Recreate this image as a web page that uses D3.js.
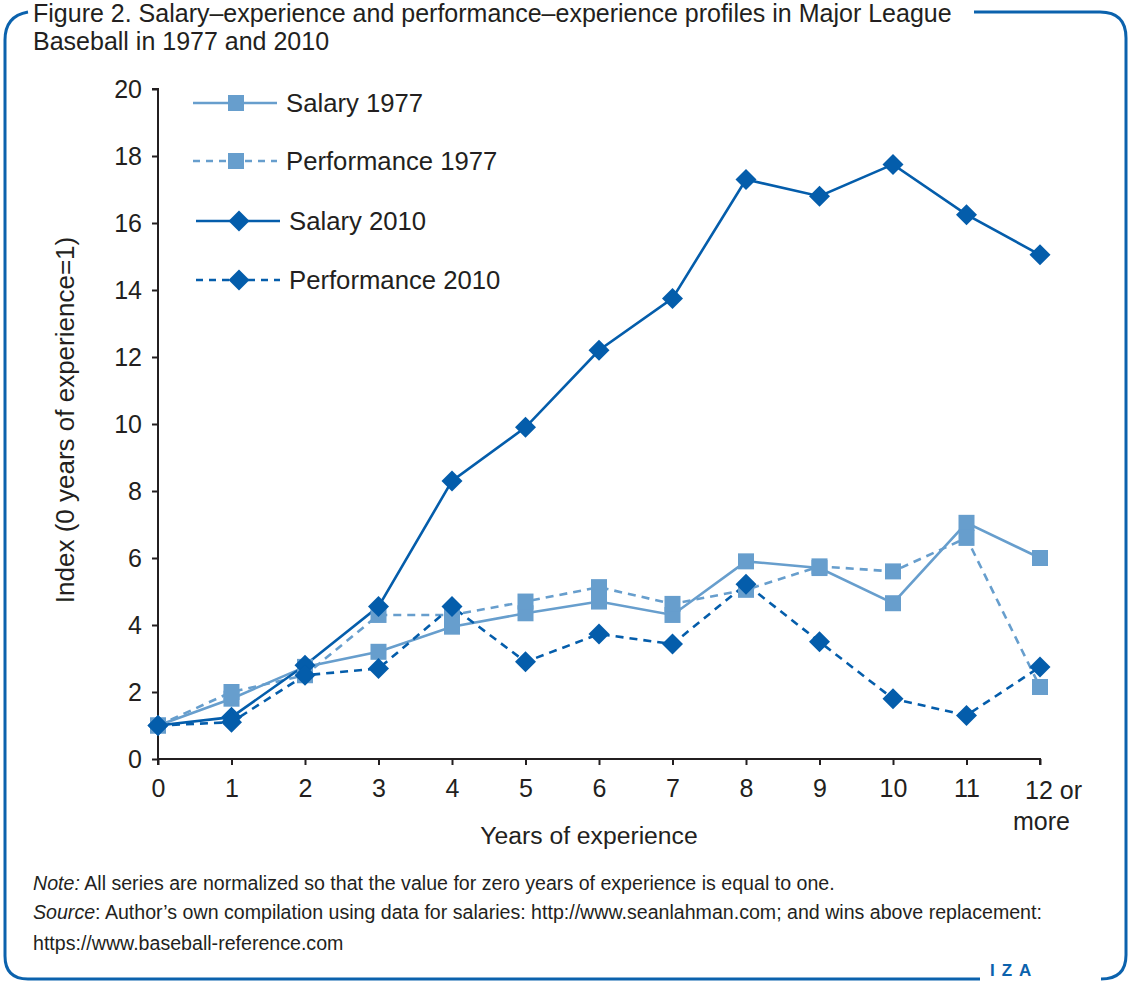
<!DOCTYPE html>
<html>
<head>
    <title>Salary and performance profiles</title>
    <script src="https://d3js.org/d3.v7.min.js"></script>
    <style>
        body { margin: 0; background: #fff; }
        text { fill: #231f20; font-family: "Liberation Sans", Arial, sans-serif; }
        .title { font-family: "Liberation Sans Narrow", "Liberation Sans", sans-serif; font-size: 25px; }
        .axis text { font-size: 25px; }
        .axis path, .axis line { stroke: #231f20; stroke-width: 2; }
    </style>
</head>
<body>
<div id="chart"></div>
<script>
    var years = [0, 1, 2, 3, 4, 5, 6, 7, 8, 9, 10, 11, 12];
    var salary1977 = [1, 1.8, 2.75, 3.2, 3.95, 4.35, 4.7, 4.3, 5.9, 5.7, 4.65, 7.05, 6.0];
    var performance1977 = [1, 2.0, 2.5, 4.3, 4.3, 4.7, 5.13, 4.63, 5.05, 5.75, 5.6, 6.6, 2.15];
    var salary2010 = [1, 1.25, 2.8, 4.55, 8.3, 9.9, 12.2, 13.75, 17.3, 16.8, 17.75, 16.25, 15.05];
    var performance2010 = [1, 1.1, 2.5, 2.7, 4.55, 2.9, 3.73, 3.43, 5.22, 3.5, 1.8, 1.3, 2.75];
    var yTicks = [0, 2, 4, 6, 8, 10, 12, 14, 16, 18, 20];

    var lightBlue = "#679ecd";
    var darkBlue = "#045dab";

    var series = [
        {name: "Salary 1977", values: salary1977, color: lightBlue, dash: null, shape: "square"},
        {name: "Performance 1977", values: performance1977, color: lightBlue, dash: "8,6", shape: "square"},
        {name: "Salary 2010", values: salary2010, color: darkBlue, dash: null, shape: "diamond"},
        {name: "Performance 2010", values: performance2010, color: darkBlue, dash: "8,6", shape: "diamond"}
    ];

    var W = 1129, H = 983;
    var svg = d3.select("#chart").append("svg")
        .attr("width", W)
        .attr("height", H);

    svg.append("rect").attr("width", W).attr("height", H).attr("fill", "#fff");

    // frame
    var frameColor = "#0b62ad";
    svg.append("path")
        .attr("d", "M974,12 L1100,12 Q1126,12 1126,38 L1126,955 Q1126,979 1101,979")
        .attr("fill", "none").attr("stroke", frameColor).attr("stroke-width", 3);
    svg.append("path")
        .attr("d", "M980,979 L28,979 Q5,979 5,956 L5,40 Q5,16 28,12")
        .attr("fill", "none").attr("stroke", frameColor).attr("stroke-width", 3);

    // title
    svg.append("text").attr("class", "title").attr("x", 33).attr("y", 22)
        .text("Figure 2. Salary\u2013experience and performance\u2013experience profiles in Major League");
    svg.append("text").attr("class", "title").attr("x", 33).attr("y", 50)
        .text("Baseball in 1977 and 2010");

    var x = d3.scaleLinear().domain([0, 12]).range([158, 1040]);
    var y = d3.scaleLinear().domain([0, 20]).range([759, 89]);

    // y axis
    var yAxis = svg.append("g").attr("class", "axis")
        .attr("transform", "translate(158,0)")
        .call(d3.axisLeft(y).tickValues(yTicks).tickSize(6).tickPadding(10));
    yAxis.select(".domain").attr("d", "M-6," + y(20) + "H0V" + y(0));

    // x axis
    var xAxis = svg.append("g").attr("class", "axis")
        .attr("transform", "translate(0,759)")
        .call(d3.axisBottom(x).tickValues(years).tickSize(6).tickPadding(8)
            .tickFormat(function(d) { return d === 12 ? "" : d; }));
    xAxis.select(".domain").attr("d", "M" + x(0) + ",6V0H" + x(12) + "V6");
    xAxis.selectAll(".tick text").attr("dy", "0.95em");

    var last = xAxis.append("text").attr("x", x(12) - 15).attr("y", 40)
        .attr("text-anchor", "start").attr("font-size", "25px").attr("fill", "#231f20");
    last.append("tspan").text("12 or");
    last.append("tspan").attr("x", x(12) - 27).attr("dy", "1.25em").text("more");

    svg.append("text").attr("x", 589).attr("y", 844).attr("text-anchor", "middle")
        .attr("font-size", "24.7px").text("Years of experience");
    svg.append("text").attr("transform", "translate(74,420) rotate(-90)")
        .attr("text-anchor", "middle").attr("font-size", "26px")
        .text("Index (0 years of experience=1)");

    var line = d3.line()
        .x(function(d, i) { return x(years[i]); })
        .y(function(d) { return y(d); });

    function marker(g, shape, color) {
        if (shape === "square") {
            return g.append("rect").attr("x", -8).attr("y", -8).attr("width", 16).attr("height", 16)
                .attr("fill", color);
        }
        return g.append("path").attr("d", "M0,-10.5L10.5,0L0,10.5L-10.5,0Z").attr("fill", color);
    }

    series.forEach(function(s) {
        svg.append("path")
            .attr("d", line(s.values))
            .attr("fill", "none")
            .attr("stroke", s.color)
            .attr("stroke-width", 2.6)
            .attr("stroke-dasharray", s.dash);
    });
    series.forEach(function(s) {
        s.values.forEach(function(v, i) {
            var g = svg.append("g").attr("transform", "translate(" + x(years[i]) + "," + y(v) + ")");
            marker(g, s.shape, s.color);
        });
    });

    // legend
    var legendY = [103, 161, 221, 280];
    series.forEach(function(s, i) {
        var off = s.shape === "diamond" ? 3 : 0;
        var g = svg.append("g").attr("transform", "translate(" + (193 + off) + "," + legendY[i] + ")");
        g.append("line").attr("x1", 0).attr("x2", 84)
            .attr("stroke", s.color).attr("stroke-width", 2.6)
            .attr("stroke-dasharray", s.dash ? "7,6" : null);
        var m = g.append("g").attr("transform", "translate(43,0)");
        marker(m, s.shape, s.color);
        g.append("text").attr("x", 93).attr("y", 9).attr("font-size", "25.7px").text(s.name);
    });

    // notes
    var note1 = svg.append("text").attr("x", 33).attr("y", 890).attr("font-size", "19.6px");
    note1.append("tspan").attr("font-style", "italic").text("Note:");
    note1.append("tspan").text(" All series are normalized so that the value for zero years of experience is equal to one.");
    var note2 = svg.append("text").attr("x", 33).attr("y", 919).attr("font-size", "19.6px");
    note2.append("tspan").attr("font-style", "italic").text("Source");
    note2.append("tspan").text(": Author\u2019s own compilation using data for salaries: http://www.seanlahman.com; and wins above replacement:");
    svg.append("text").attr("x", 33).attr("y", 950).attr("font-size", "19.6px")
        .text("https://www.baseball-reference.com");

    // logo
    svg.append("text").attr("x", 990).attr("y", 976).attr("font-size", "17px")
        .attr("font-weight", "bold").attr("letter-spacing", "7px")
        .style("fill", frameColor).text("IZA");
</script>
</body>
</html>
